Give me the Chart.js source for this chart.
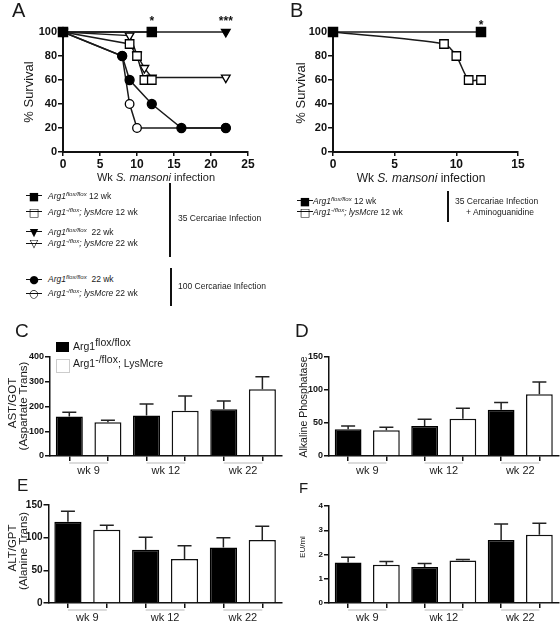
<!DOCTYPE html>
<html><head><meta charset="utf-8">
<script src="https://cdn.jsdelivr.net/npm/chart.js@4.4.1/dist/chart.umd.min.js"></script>
<style>
html,body{margin:0;padding:0;background:#fff;}
#wrap{position:relative;width:560px;height:623px;overflow:hidden;background:#fff;font-family:"Liberation Sans",Arial,sans-serif;color:#1a1a1a;}
canvas{position:absolute;}
.t{position:absolute;white-space:nowrap;line-height:1;}
.vl{position:absolute;background:#111;width:2px;}
sup{font-size:0.72em;vertical-align:0.5em;line-height:0;}
</style></head>
<body><div id="wrap">
<canvas id="cA" width="262" height="175" style="left:0px;top:0px"></canvas>
<canvas id="cB" width="270" height="175" style="left:280px;top:0px"></canvas>
<canvas id="cC" width="290" height="140" style="left:0px;top:340px"></canvas>
<canvas id="cD" width="280" height="140" style="left:280px;top:340px"></canvas>
<canvas id="cE" width="290" height="133" style="left:0px;top:490px"></canvas>
<canvas id="cF" width="280" height="133" style="left:280px;top:490px"></canvas>
</div>
<script>
// ---------------- DATA ----------------
// Panel A: survival (% ) vs weeks of S. mansoni infection
const A_flox12_wk = [0, 12];            const A_flox12_pct = [100, 100];
const A_ko12_wk   = [0, 9, 10, 11, 12]; const A_ko12_pct   = [100, 90, 80, 60, 60];
const A_flox22_wk = [0, 22];            const A_flox22_pct = [100, 100];
const A_ko22_wk   = [0, 9, 10, 11, 12, 22]; const A_ko22_pct = [100, 97, 81, 70, 62, 62];
const A_flox100_wk = [0, 8, 9, 12, 16, 22]; const A_flox100_pct = [100, 80, 60, 40, 20, 20];
const A_ko100_wk   = [0, 8, 9, 10, 22];     const A_ko100_pct   = [100, 80, 40, 20, 20];
const A_stars_wk = [12, 22]; const A_stars_txt = ['*', '***'];
// Panel B
const B_flox12_wk = [0, 12];            const B_flox12_pct = [100, 100];
const B_ko12_wk   = [0, 9, 10, 11, 12]; const B_ko12_pct   = [100, 90, 80, 60, 60];
const B_stars_wk = [12]; const B_stars_txt = ['*'];
// Bar panels
const weeks = ['wk 9', 'wk 12', 'wk 22'];
const C_flox = [160, 164, 189]; const C_floxErr = [17, 46, 33];
const C_ko   = [136, 183, 270]; const C_koErr   = [8, 59, 50];
const D_flox = [40.5, 45.5, 70]; const D_floxErr = [5, 10, 11];
const D_ko   = [39, 56.5, 93.5]; const D_koErr   = [4.5, 16, 18.5];
const E_flox = [124.5, 81.5, 85]; const E_floxErr = [16, 19, 15];
const E_ko   = [112, 67.5, 96.5]; const E_koErr   = [7, 20, 21];
const F_flox = [1.67, 1.48, 2.6]; const F_floxErr = [0.22, 0.15, 0.66];
const F_ko   = [1.58, 1.75, 2.81]; const F_koErr  = [0.13, 0.04, 0.48];
const A_xTicksMax = 25, B_xTicksMax = 15;

// ---------------- HELPERS ----------------
const FONT = '"Liberation Sans", Arial, sans-serif';
const pts = (xs, ys) => xs.map((x, i) => ({x: x, y: ys[i]}));

function starPlugin(wks, txts, dy, size) {
  return {
    id: 'stars',
    afterDatasetsDraw(chart) {
      const ctx = chart.ctx, xs = chart.scales.x, ys = chart.scales.y;
      ctx.save();
      ctx.fillStyle = '#111';
      ctx.font = 'bold ' + size + 'px ' + FONT;
      ctx.textAlign = 'center'; ctx.textBaseline = 'alphabetic';
      wks.forEach((w, i) => ctx.fillText(txts[i], xs.getPixelForValue(w), ys.getPixelForValue(100) - dy));
      ctx.restore();
    }
  };
}

function geomOpts(c, g) {
  return {
    pad: {top: g.T - c.y, left: 0, right: c.x + c.w - g.R, bottom: 0},
    yW: g.L - c.x, xH: c.y + c.h - g.B
  };
}

function survivalChart(id, c, g, datasets, xMax, plugins) {
  const G = geomOpts(c, g);
  return new Chart(document.getElementById(id), {
    type: 'line',
    data: {datasets: datasets},
    options: {
      responsive: false, animation: false, devicePixelRatio: 1,
      layout: {padding: G.pad},
      plugins: {legend: {display: false}, tooltip: {enabled: false}},
      scales: {
        x: {type: 'linear', min: 0, max: xMax,
          ticks: {stepSize: 5, color: '#111', padding: 1, maxRotation: 0, autoSkip: false,
                  font: {family: FONT, size: 12, weight: 'bold'}},
          grid: {drawOnChartArea: false, drawTicks: true, tickLength: 4, color: '#111', lineWidth: 1.5},
          border: {display: true, color: '#111', width: 2},
          afterFit: s => { s.height = G.xH; }},
        y: {type: 'linear', min: 0, max: 100,
          ticks: {stepSize: 20, color: '#111', padding: 1,
                  font: {family: FONT, size: 11, weight: 'bold'}},
          grid: {drawOnChartArea: false, drawTicks: true, tickLength: 5, color: '#111', lineWidth: 1.5},
          border: {display: true, color: '#111', width: 2},
          afterFit: s => { s.width = G.yW; }}
      }
    },
    plugins: plugins
  });
}

function ds(data, style, filled, radius, rot, extra) {
  return Object.assign({
    data: data, borderColor: '#1a1a1a', borderWidth: 1.5, tension: 0, clip: false,
    pointStyle: style, pointRadius: radius, pointRotation: rot || 0,
    pointBackgroundColor: filled ? '#000' : '#fff', pointBorderColor: '#000', pointBorderWidth: 1.3
  }, extra || {});
}

const errorPlugin = {
  id: 'errbars',
  afterDatasetsDraw(chart) {
    const ctx = chart.ctx, ys = chart.scales.y;
    ctx.save();
    ctx.strokeStyle = '#222'; ctx.lineWidth = 1.5;
    chart.data.datasets.forEach((d, di) => {
      const meta = chart.getDatasetMeta(di);
      meta.data.forEach((bar, j) => {
        const v = d.data[j];
        if (v == null) return;
        const top = ys.getPixelForValue(v + d.errs[j]);
        ctx.beginPath();
        ctx.moveTo(bar.x, bar.y); ctx.lineTo(bar.x, top);
        ctx.moveTo(bar.x - 7, top); ctx.lineTo(bar.x + 7, top);
        ctx.stroke();
      });
    });
    ctx.restore();
  }
};

function groupLabelPlugin(groups, lineDy, textDy, size) {
  return {
    id: 'grouplabels',
    afterDraw(chart) {
      const ctx = chart.ctx, xs = chart.scales.x, b = chart.chartArea.bottom;
      ctx.save();
      groups.forEach((gname, i) => {
        const x1 = xs.getPixelForTick(2 * i), x2 = xs.getPixelForTick(2 * i + 1);
        ctx.strokeStyle = '#d0d0d0'; ctx.lineWidth = 1.5;
        ctx.beginPath(); ctx.moveTo(x1, b + lineDy); ctx.lineTo(x2, b + lineDy); ctx.stroke();
        ctx.fillStyle = '#1a1a1a'; ctx.font = size + 'px ' + FONT;
        ctx.textAlign = 'center'; ctx.textBaseline = 'middle';
        ctx.fillText(gname, (x1 + x2) / 2, b + textDy);
      });
      ctx.restore();
    }
  };
}

function barChart(id, c, g, flox, floxErr, ko, koErr, yMax, yStep, tickSize) {
  const G = geomOpts(c, g);
  const labels = weeks.flatMap(w => [w, w]);
  const floxData = flox.flatMap(v => [v, null]);
  const koData = ko.flatMap(v => [null, v]);
  const floxE = floxErr.flatMap(v => [v, null]);
  const koE = koErr.flatMap(v => [null, v]);
  return new Chart(document.getElementById(id), {
    type: 'bar',
    data: {labels: labels, datasets: [
      {data: floxData, errs: floxE, backgroundColor: '#000', borderColor: '#000', borderWidth: 1.5,
       grouped: false, barPercentage: 0.7, categoryPercentage: 1},
      {data: koData, errs: koE, backgroundColor: '#fff', borderColor: '#111', borderWidth: 1.5,
       grouped: false, barPercentage: 0.7, categoryPercentage: 1}
    ]},
    options: {
      responsive: false, animation: false, devicePixelRatio: 1,
      layout: {padding: G.pad},
      plugins: {legend: {display: false}, tooltip: {enabled: false}},
      scales: {
        x: {offset: true, ticks: {display: false},
          grid: {offset: false, drawOnChartArea: false, drawTicks: true, tickLength: 5, color: '#111', lineWidth: 1.5},
          border: {display: true, color: '#111', width: 1.5},
          afterFit: s => { s.height = G.xH; }},
        y: {min: 0, max: yMax,
          ticks: {stepSize: yStep, color: '#111', padding: 1, font: {family: FONT, size: tickSize, weight: 'bold'}},
          grid: {drawOnChartArea: false, drawTicks: true, tickLength: 5, color: '#111', lineWidth: 1.5},
          border: {display: true, color: '#111', width: 1.5},
          afterFit: s => { s.width = G.yW; }}
      }
    },
    plugins: [errorPlugin, groupLabelPlugin(weeks, 7, 15, 11)]
  });
}

// ---------------- CHARTS ----------------
survivalChart('cA', {x: 0, y: 0, w: 262, h: 175}, {L: 63, T: 32, R: 248, B: 152}, [
  ds(pts(A_flox12_wk, A_flox12_pct), 'rect', true, 6.5),
  ds(pts(A_ko12_wk, A_ko12_pct), 'rect', false, 6),
  ds(pts(A_flox22_wk, A_flox22_pct), 'triangle', true, 5, 180),
  ds(pts(A_ko22_wk, A_ko22_pct), 'triangle', false, 5, 180),
  ds(pts(A_flox100_wk, A_flox100_pct), 'circle', true, 4.5),
  ds(pts(A_ko100_wk, A_ko100_pct), 'circle', false, 4.3)
], A_xTicksMax, [starPlugin(A_stars_wk, A_stars_txt, 7, 12)]);

survivalChart('cB', {x: 280, y: 0, w: 270, h: 175}, {L: 333, T: 32, R: 518, B: 152}, [
  ds(pts(B_flox12_wk, B_flox12_pct), 'rect', true, 6.5),
  ds(pts(B_ko12_wk, B_ko12_pct), 'rect', false, 6, 0, {tension: 0.25})
], B_xTicksMax, [starPlugin(B_stars_wk, B_stars_txt, 3, 12)]);

barChart('cC', {x: 0, y: 340, w: 290, h: 140}, {L: 50, T: 357, R: 281.7, B: 456}, C_flox, C_floxErr, C_ko, C_koErr, 400, 100, 9);
barChart('cD', {x: 280, y: 340, w: 280, h: 140}, {L: 329, T: 357, R: 558.5, B: 456}, D_flox, D_floxErr, D_ko, D_koErr, 150, 50, 9);
barChart('cE', {x: 0, y: 490, w: 290, h: 133}, {L: 48.5, T: 505, R: 281.7, B: 603}, E_flox, E_floxErr, E_ko, E_koErr, 150, 50, 10);
barChart('cF', {x: 280, y: 490, w: 280, h: 133}, {L: 329, T: 506, R: 558.5, B: 603}, F_flox, F_floxErr, F_ko, F_koErr, 4, 1, 8);

// ---------------- TEXT / LEGENDS ----------------
const wrap = document.getElementById('wrap');
function txt(html, x, y, size, opts) {
  opts = opts || {};
  const d = document.createElement('div');
  d.className = 't';
  d.innerHTML = html;
  d.style.fontSize = size + 'px';
  if (opts.family) d.style.fontFamily = opts.family;
  if (opts.color) d.style.color = opts.color;
  d.style.left = x + 'px'; d.style.top = y + 'px';
  const ax = opts.anchor === 'center' ? '-50%' : (opts.anchor === 'right' ? '-100%' : '0');
  if (opts.rot) { d.style.transform = 'translate(-50%,-50%) rotate(-90deg)'; }
  else d.style.transform = 'translate(' + ax + ',-50%)';
  wrap.appendChild(d);
  return d;
}
function vline(x, y1, y2) {
  const d = document.createElement('div');
  d.className = 'vl';
  d.style.left = (x - 1) + 'px'; d.style.top = y1 + 'px'; d.style.height = (y2 - y1) + 'px';
  wrap.appendChild(d);
}
// panel letters
txt('A', 12, 10, 20);
txt('B', 290, 10, 20);
txt('C', 15, 330, 19);
txt('D', 295, 330, 19);
txt('E', 17, 485, 17);
txt('F', 299, 487, 15);
// axis titles
txt('% Survival', 28, 91.5, 13, {rot: true});
txt('% Survival', 300, 92.5, 13, {rot: true});
txt('Wk <i>S. mansoni</i> infection', 156, 177, 11, {anchor: 'center'});
txt('Wk <i>S. mansoni</i> infection', 421, 178, 12, {anchor: 'center'});
txt('AST/GOT', 12.5, 403, 11.5, {rot: true});
txt('(Aspartate Trans)', 24, 406, 11.5, {rot: true});
txt('Alkaline Phosphatase', 303, 407, 10.5, {rot: true});
txt('ALT/GPT', 12.5, 548, 11.5, {rot: true});
txt('(Alanine Trans)', 24, 551, 11.5, {rot: true});
txt('EU/ml', 303, 547, 8, {rot: true});

// survival legends
const GLYPH = '"DejaVu Sans", sans-serif';
function legRow(glyph, html, mx, y, tx, size) {
  const line = document.createElement('div');
  line.style.cssText = 'position:absolute;height:1.5px;background:#111;width:16px;';
  line.style.left = (mx - 8) + 'px'; line.style.top = (y - 0.75) + 'px';
  wrap.appendChild(line);
  txt(glyph, mx, y, 11, {family: GLYPH, anchor: 'center', color: '#000'});
  txt(html, tx, y, size);
}
const sFlox = '<i>Arg1</i><sup><i>flox/flox</i></sup>';
const sKo = '<i>Arg1</i><sup><i>-/flox</i></sup><i>; lysMcre</i>';
legRow('■', sFlox + ' 12 wk', 34, 195.7, 48, 8.5);
legRow('□', sKo + ' 12 wk', 34, 211.7, 48, 8.5);
legRow('▼', sFlox + ' &nbsp;22 wk', 34, 231.7, 48, 8.5);
legRow('▽', sKo + ' 22 wk', 34, 243.3, 48, 8.5);
legRow('●', sFlox + ' &nbsp;22 wk', 34, 279.3, 48, 8.5);
legRow('○', sKo + ' 22 wk', 34, 293.3, 48, 8.5);
vline(170, 183, 257);
txt('35 Cercariae Infection', 178, 217.7, 8.5);
vline(171, 268, 306);
txt('100 Cercariae Infection', 178, 286, 8.5);

legRow('■', sFlox + ' 12 wk', 305, 200.7, 313, 8.5);
legRow('□', sKo + ' 12 wk', 305, 211.5, 313, 8.5);
vline(448, 191, 222);
txt('35 Cercariae Infection', 455, 201, 8.5);
txt('+ Aminoguanidine', 500, 211.5, 8.5, {anchor: 'center'});

// bar legend (panel C)
const box1 = document.createElement('div');
box1.style.cssText = 'position:absolute;left:56px;top:342px;width:13px;height:10px;background:#000;';
wrap.appendChild(box1);
const box2 = document.createElement('div');
box2.style.cssText = 'position:absolute;left:56px;top:359px;width:12px;height:12px;background:#fff;border:1px solid #ccc;';
wrap.appendChild(box2);
txt('Arg1<sup style="font-size:1em;vertical-align:0.35em">flox/flox</sup>', 73, 346, 10.5);
txt('Arg1<sup style="font-size:1em;vertical-align:0.35em">-/flox</sup>; LysMcre', 73, 363, 10.5);
</script>
</body></html>
